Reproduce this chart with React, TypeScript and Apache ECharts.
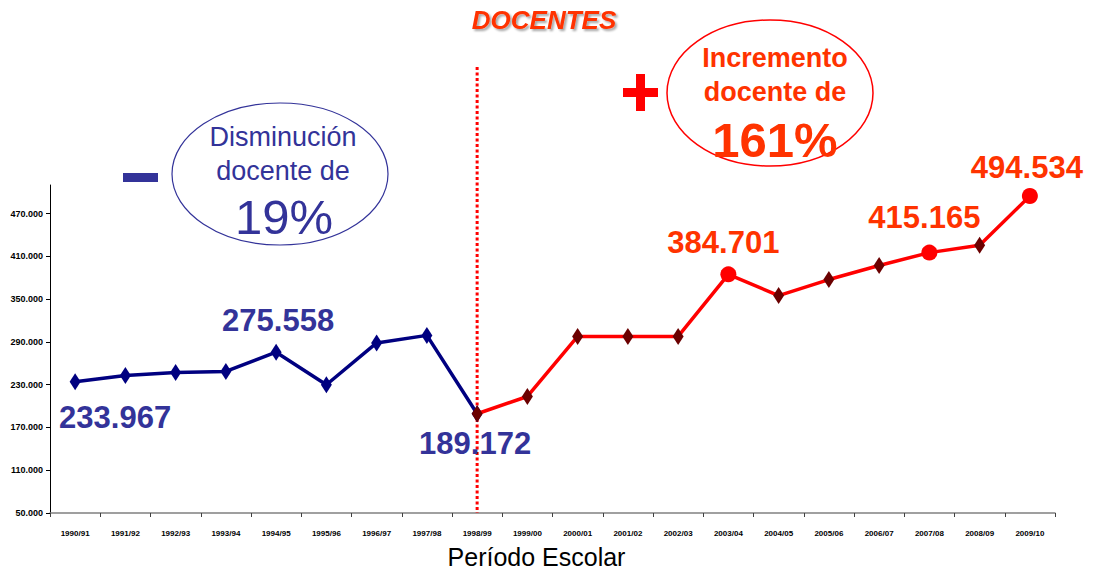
import React, { useEffect, useRef } from "react";
import * as echarts from "echarts";

const categories = [
  "1990/91", "1991/92", "1992/93", "1993/94", "1994/95", "1995/96", "1996/97",
  "1997/98", "1998/99", "1999/00", "2000/01", "2001/02", "2002/03", "2003/04",
  "2004/05", "2005/06", "2006/07", "2007/08", "2008/09", "2009/10",
];

const blueValues: (number | null)[] = [
  233967, 242900, 247100, 248500, 275558, 229900, 288500, 299100, 189172,
  null, null, null, null, null, null, null, null, null, null, null,
];

const redValues: (number | null)[] = [
  null, null, null, null, null, null, null, null, 189172, 213400,
  297700, 297700, 297700, 384701, 354900, 377400, 397100, 415165, 425600, 494534,
];

const yTicks = [50000, 110000, 170000, 230000, 290000, 350000, 410000, 470000];

const blueLabelled = [0, 4, 8];
const redLabelled = [13, 17, 19];
const splitCategory = "1998/99";

const blueLabelOffsets: Record<number, number[]> = { 0: [40, 36], 4: [2, -32], 8: [-2, 30] };
const redLabelOffsets: Record<number, number[]> = { 13: [-5, -32], 17: [-5, -35], 19: [-3, -29] };

const fmt = (v: number) => (v / 1000).toFixed(3);
const arial = "'Liberation Sans', Arial, sans-serif";

export default function App() {
  const ref = useRef<HTMLDivElement>(null);
  useEffect(() => {
    if (!ref.current) return;
    const chart = echarts.init(ref.current, null, { renderer: "svg" });

    const blueData = blueValues.map((v, i) => {
      if (v === null) return null;
      if (blueLabelled.includes(i)) {
        return {
          value: v,
          label: {
            show: true,
            position: "inside",
            offset: blueLabelOffsets[i],
            formatter: () => fmt(v),
            color: "#333399",
            fontSize: 31,
            fontWeight: "bold",
            fontFamily: arial,
          },
        };
      }
      return v;
    });

    const redData = redValues.map((v, i) => {
      if (v === null) return null;
      if (redLabelled.includes(i)) {
        return {
          value: v,
          symbol: "circle",
          symbolSize: 16,
          itemStyle: { color: "#FF0000" },
          label: {
            show: true,
            position: "inside",
            offset: redLabelOffsets[i],
            formatter: () => fmt(v),
            color: "#FF3300",
            fontSize: 31,
            fontWeight: "bold",
            fontFamily: arial,
          },
        };
      }
      return v;
    });

    chart.setOption({
      animation: false,
      backgroundColor: "#ffffff",
      grid: { left: 50, right: 40, top: 185, bottom: 58, outerBoundsMode: "none", containLabel: false },
      xAxis: {
        type: "category",
        data: categories,
        boundaryGap: true,
        name: "Período Escolar",
        nameLocation: "middle",
        nameGap: 31,
        nameTextStyle: { fontSize: 25, color: "#000", fontFamily: arial, padding: [0, 32, 0, 0] },
        axisLine: { lineStyle: { color: "#808080", width: 1.5 } },
        axisTick: { show: true, length: 4, lineStyle: { color: "#404040" } },
        axisLabel: {
          interval: 0,
          fontSize: 8,
          fontWeight: "bold",
          fontFamily: arial,
          color: "#000",
          margin: 16,
        },
      },
      yAxis: {
        type: "value",
        min: 50000,
        max: 510000,
        interval: 60000,
        splitLine: { show: false },
        axisLine: { show: true, lineStyle: { color: "#000", width: 1 } },
        axisTick: { show: true, length: 4, customValues: yTicks, lineStyle: { color: "#000" } },
        axisLabel: {
          customValues: yTicks,
          formatter: (v: number) => fmt(v),
          fontSize: 9,
          fontWeight: "bold",
          fontFamily: arial,
          color: "#000",
          margin: 7,
        },
      },
      series: [
        {
          type: "line",
          data: blueData,
          symbol: "diamond",
          symbolSize: [11, 17],
          itemStyle: { color: "#000080" },
          lineStyle: { color: "#000080", width: 3.5 },
          z: 2,
        },
        {
          type: "line",
          data: redData,
          symbol: "diamond",
          symbolSize: [11, 17],
          itemStyle: { color: "#6B0000" },
          lineStyle: { color: "#FF0000", width: 3.5 },
          z: 3,
        },
      ],
    });

    const [lx, ly] = chart.convertToPixel({ xAxisIndex: 0, yAxisIndex: 0 }, [splitCategory, 50000]) as number[];

    chart.setOption({
      graphic: [
        {
          type: "line",
          shape: { x1: lx, y1: 67, x2: lx, y2: ly },
          style: { stroke: "#FF0000", lineWidth: 3, lineDash: [3, 2.5] },
          z: 1,
        },
        {
          type: "text",
          style: {
            text: "DOCENTES",
            x: 544,
            y: 20,
            align: "center",
            verticalAlign: "middle",
            fontSize: 26,
            fontWeight: "bold",
            fontStyle: "italic",
            fontFamily: arial,
            fill: "#FF3300",
            textShadowColor: "rgba(0,0,0,0.35)",
            textShadowBlur: 2,
            textShadowOffsetX: 2,
            textShadowOffsetY: 2,
          },
        },
        {
          type: "rect",
          shape: { x: 123, y: 173, width: 35, height: 9 },
          style: { fill: "#333399" },
        },
        {
          type: "ellipse",
          shape: { cx: 280, cy: 174, rx: 108, ry: 71 },
          style: { fill: "none", stroke: "#333399", lineWidth: 1.2 },
        },
        {
          type: "text",
          style: { text: "Disminución", x: 283, y: 137, align: "center", verticalAlign: "middle", fontSize: 27, fontFamily: arial, fill: "#333399" },
        },
        {
          type: "text",
          style: { text: "docente de", x: 283, y: 171, align: "center", verticalAlign: "middle", fontSize: 27, fontFamily: arial, fill: "#333399" },
        },
        {
          type: "text",
          style: { text: "19%", x: 284, y: 217, align: "center", verticalAlign: "middle", fontSize: 49, fontFamily: arial, fill: "#333399" },
        },
        {
          type: "rect",
          shape: { x: 623, y: 88, width: 35, height: 9 },
          style: { fill: "#FF0000" },
        },
        {
          type: "rect",
          shape: { x: 636, y: 74, width: 9, height: 37 },
          style: { fill: "#FF0000" },
        },
        {
          type: "ellipse",
          shape: { cx: 770, cy: 93, rx: 103, ry: 73 },
          style: { fill: "none", stroke: "#FF0000", lineWidth: 1.5 },
        },
        {
          type: "text",
          style: { text: "Incremento", x: 775, y: 58, align: "center", verticalAlign: "middle", fontSize: 27, fontWeight: "bold", fontFamily: arial, fill: "#FF3300" },
        },
        {
          type: "text",
          style: { text: "docente de", x: 775, y: 92, align: "center", verticalAlign: "middle", fontSize: 27, fontWeight: "bold", fontFamily: arial, fill: "#FF3300" },
        },
        {
          type: "text",
          style: { text: "161%", x: 775, y: 140, align: "center", verticalAlign: "middle", fontSize: 49, fontWeight: "bold", fontFamily: arial, fill: "#FF3300" },
        },
      ],
    });

    return () => chart.dispose();
  }, []);

  return (
    <div
      ref={ref}
      style={{ position: "fixed", left: 0, top: 0, width: 1095, height: 571, background: "#fff" }}
    />
  );
}
